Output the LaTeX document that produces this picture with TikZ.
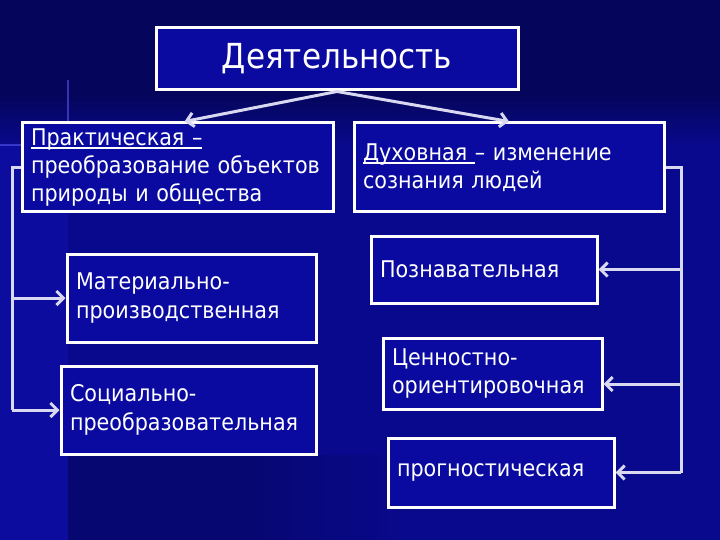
\documentclass[tikz,border=0pt]{standalone}
\usepackage{fontspec}
\setmainfont{DejaVu Sans}[FakeStretch=0.9]
\usetikzlibrary{arrows.meta}
\definecolor{bgdark}{HTML}{05055C}
\definecolor{bgmid}{HTML}{09098E}
\definecolor{bgleft}{HTML}{0C0C9E}
\definecolor{bglow}{HTML}{070772}
\definecolor{boxfill}{HTML}{0A0AA0}
\definecolor{linecol}{HTML}{D8D8F0}
\newcommand\ulx[1]{\setbox0\hbox{#1}\rlap{\rule[-3.5pt]{\wd0}{1.3pt}}\box0}
\tikzset{
  box/.style={draw=white, line width=3pt, fill=boxfill, text=white, rectangle,
    inner xsep=9pt, inner ysep=0pt, align=left,
    font=\fontsize{23}{28.3}\selectfont},
  conn/.style={draw=linecol, line width=3pt,
    -{Straight Barb[length=7pt,width=14pt,line width=3pt]}},
  trunk/.style={draw=linecol, line width=3pt, line join=miter}
}
\begin{document}
\begin{tikzpicture}[x=1pt,y=-1pt]
\useasboundingbox (0,0) rectangle (720,540);
% background
\fill[bgdark] (0,0) rectangle (720,540);
\shade[top color=bgdark, bottom color=bgmid] (0,95) rectangle (720,146);
\fill[bgmid] (0,145) rectangle (720,540);
\fill[bgleft] (0,145) rectangle (68,540);
\fill[bglow] (68,455) rectangle (250,540);
\shade[left color=bglow, right color=bgmid] (249,455) rectangle (420,540);
\draw[line width=1.5pt, color=blue!60!white, opacity=0.5] (68,80) -- (68,123);
\draw[line width=1.5pt, color=blue!60!white, opacity=0.5] (0,145) -- (22,145);

% nodes
\node[box, minimum width=362pt, minimum height=62pt, align=center, inner xsep=0pt,
  font=\fontsize{34.5}{38}\selectfont] (T) at (337,59) {Деятельность};
\node[box, text width=293pt, minimum height=89pt] (P) at (177.5,167.5)
  {\ulx{Практическая –}\\преобразование объектов\\природы и общества};
\node[box, text width=292pt, minimum height=89pt] (S) at (509,167.5)
  {\ulx{Духовная }– изменение\\сознания людей};
\node[box, text width=231pt, minimum height=88pt] (M) at (191.5,298)
  {Материально-\\производственная};
\node[box, text width=237pt, minimum height=88pt] (So) at (188.5,410)
  {Социально-\\преобразовательная};
\node[box, text width=208pt, minimum height=67pt] (Po) at (484,269.5)
  {Познавательная};
\node[box, text width=201pt, minimum height=71pt] (C) at (492.5,373.5)
  {Ценностно-\\ориентировочная};
\node[box, text width=208pt, minimum height=69pt] (Pr) at (501,472.5)
  {прогностическая};

\coordinate (lx) at (12,0);
\coordinate (rx) at (681,0);
\coordinate (Ca) at ([yshift=-10.5pt]C.east);

% top arrows
\draw[conn] (T.south) -- ([xshift=7pt]P.north);
\draw[conn] (T.south) -- (S.north);

% left trunk
\draw[trunk] (P.west) -- (P.west -| lx) -- (lx |- So.west);
\draw[conn] (lx |- M.west) -- (M.west);
\draw[conn] (lx |- So.west) -- (So.west);

% right trunk
\draw[trunk] (S.east) -- (S.east -| rx) -- (rx |- Pr.east);
\draw[conn] (rx |- Po.east) -- (Po.east);
\draw[conn] (rx |- Ca) -- (Ca);
\draw[conn] (rx |- Pr.east) -- (Pr.east);
\end{tikzpicture}
\end{document}
